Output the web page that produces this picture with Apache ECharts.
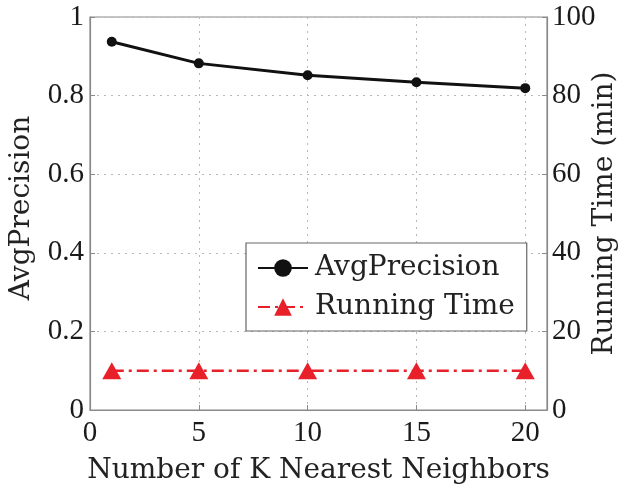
<!DOCTYPE html>
<html>
<head>
<meta charset="utf-8">
<script src="https://cdn.jsdelivr.net/npm/echarts@6/dist/echarts.min.js"></script>
<style>html,body{margin:0;padding:0;background:#fff;}#c{width:621px;height:491px;}</style>
</head>
<body>
<div id="c"></div>
<script>
const kValues = [1, 5, 10, 15, 20];
const avgPrecision = [0.937, 0.882, 0.852, 0.834, 0.819];
const runningTime = [10, 10, 10, 10, 10];
const xTicks = [0, 5, 10, 15, 20];

const tickFont = { fontFamily: 'Liberation Serif', fontSize: 29, color: '#1a1a1a' };
const titleFont = { fontFamily: 'DejaVu Serif', fontSize: 28, color: '#222' };
const axisGray = '#8a8a8a';
const gridLine = { show: true, lineStyle: { color: '#b8b8b8', type: [2, 5], width: 1 } };

const chart = echarts.init(document.getElementById('c'), null, { renderer: 'canvas' });
chart.setOption({
  animation: false,
  backgroundColor: '#fff',
  grid: { left: 90, right: 74, top: 17, bottom: 81, containLabel: false, outerBoundsMode: 'none',
    show: true, borderColor: axisGray, borderWidth: 1.2, backgroundColor: 'transparent' },
  xAxis: {
    type: 'value', min: 0, max: 21, interval: 5,
    name: 'Number of K Nearest Neighbors', nameLocation: 'middle', nameGap: 47,
    nameTextStyle: titleFont,
    axisLine: { show: true, lineStyle: { color: axisGray, width: 1.2 } },
    axisTick: { show: true, inside: true, length: 5, lineStyle: { color: axisGray } },
    axisLabel: Object.assign({ margin: 9, formatter: v => xTicks.indexOf(v) >= 0 ? String(v) : '' }, tickFont),
    splitLine: gridLine
  },
  yAxis: [{
    type: 'value', min: 0, max: 1, interval: 0.2, position: 'left',
    name: 'AvgPrecision', nameLocation: 'middle', nameRotate: 90, nameGap: 54,
    nameTextStyle: Object.assign({ padding: [0, 0, 0, 11] }, titleFont),
    axisLine: { show: true, lineStyle: { color: axisGray, width: 1.2 } },
    axisTick: { show: true, inside: true, length: 5, lineStyle: { color: axisGray } },
    axisLabel: Object.assign({ margin: 6 }, tickFont),
    splitLine: gridLine
  }, {
    type: 'value', min: 0, max: 100, interval: 20, position: 'right',
    name: 'Running Time (min)', nameLocation: 'middle', nameRotate: 90, nameGap: 44,
    nameMoveOverlap: false,
    nameTextStyle: titleFont,
    axisLine: { show: true, lineStyle: { color: axisGray, width: 1.2 } },
    axisTick: { show: true, inside: true, length: 5, lineStyle: { color: axisGray } },
    axisLabel: Object.assign({ margin: 5 }, tickFont),
    splitLine: { show: false }
  }],
  legend: {
    orient: 'vertical', left: 246, top: 243,
    backgroundColor: '#fff', borderColor: '#666', borderWidth: 1.2, borderRadius: 0,
    padding: [11, 12, 10, 11], itemWidth: 50, itemHeight: 22, itemGap: 11,
    textStyle: { fontFamily: 'DejaVu Serif', fontSize: 28, color: '#222', padding: [0, 0, 0, 2] },
    data: ['AvgPrecision', 'Running Time']
  },
  series: [{
    name: 'AvgPrecision', type: 'line', yAxisIndex: 0,
    data: kValues.map((k, i) => [k, avgPrecision[i]]),
    symbol: 'circle', symbolSize: 10,
    itemStyle: { color: '#111' },
    lineStyle: { color: '#111', width: 3 },
    z: 3
  }, {
    name: 'Running Time', type: 'line', yAxisIndex: 1,
    data: kValues.map((k, i) => [k, runningTime[i]]),
    symbol: 'triangle', symbolSize: [19, 17],
    itemStyle: { color: '#e8202a' },
    lineStyle: { color: '#e8202a', width: 2.5, type: [12, 5, 3, 5] },
    z: 2
  }]
});
</script>
</body>
</html>
